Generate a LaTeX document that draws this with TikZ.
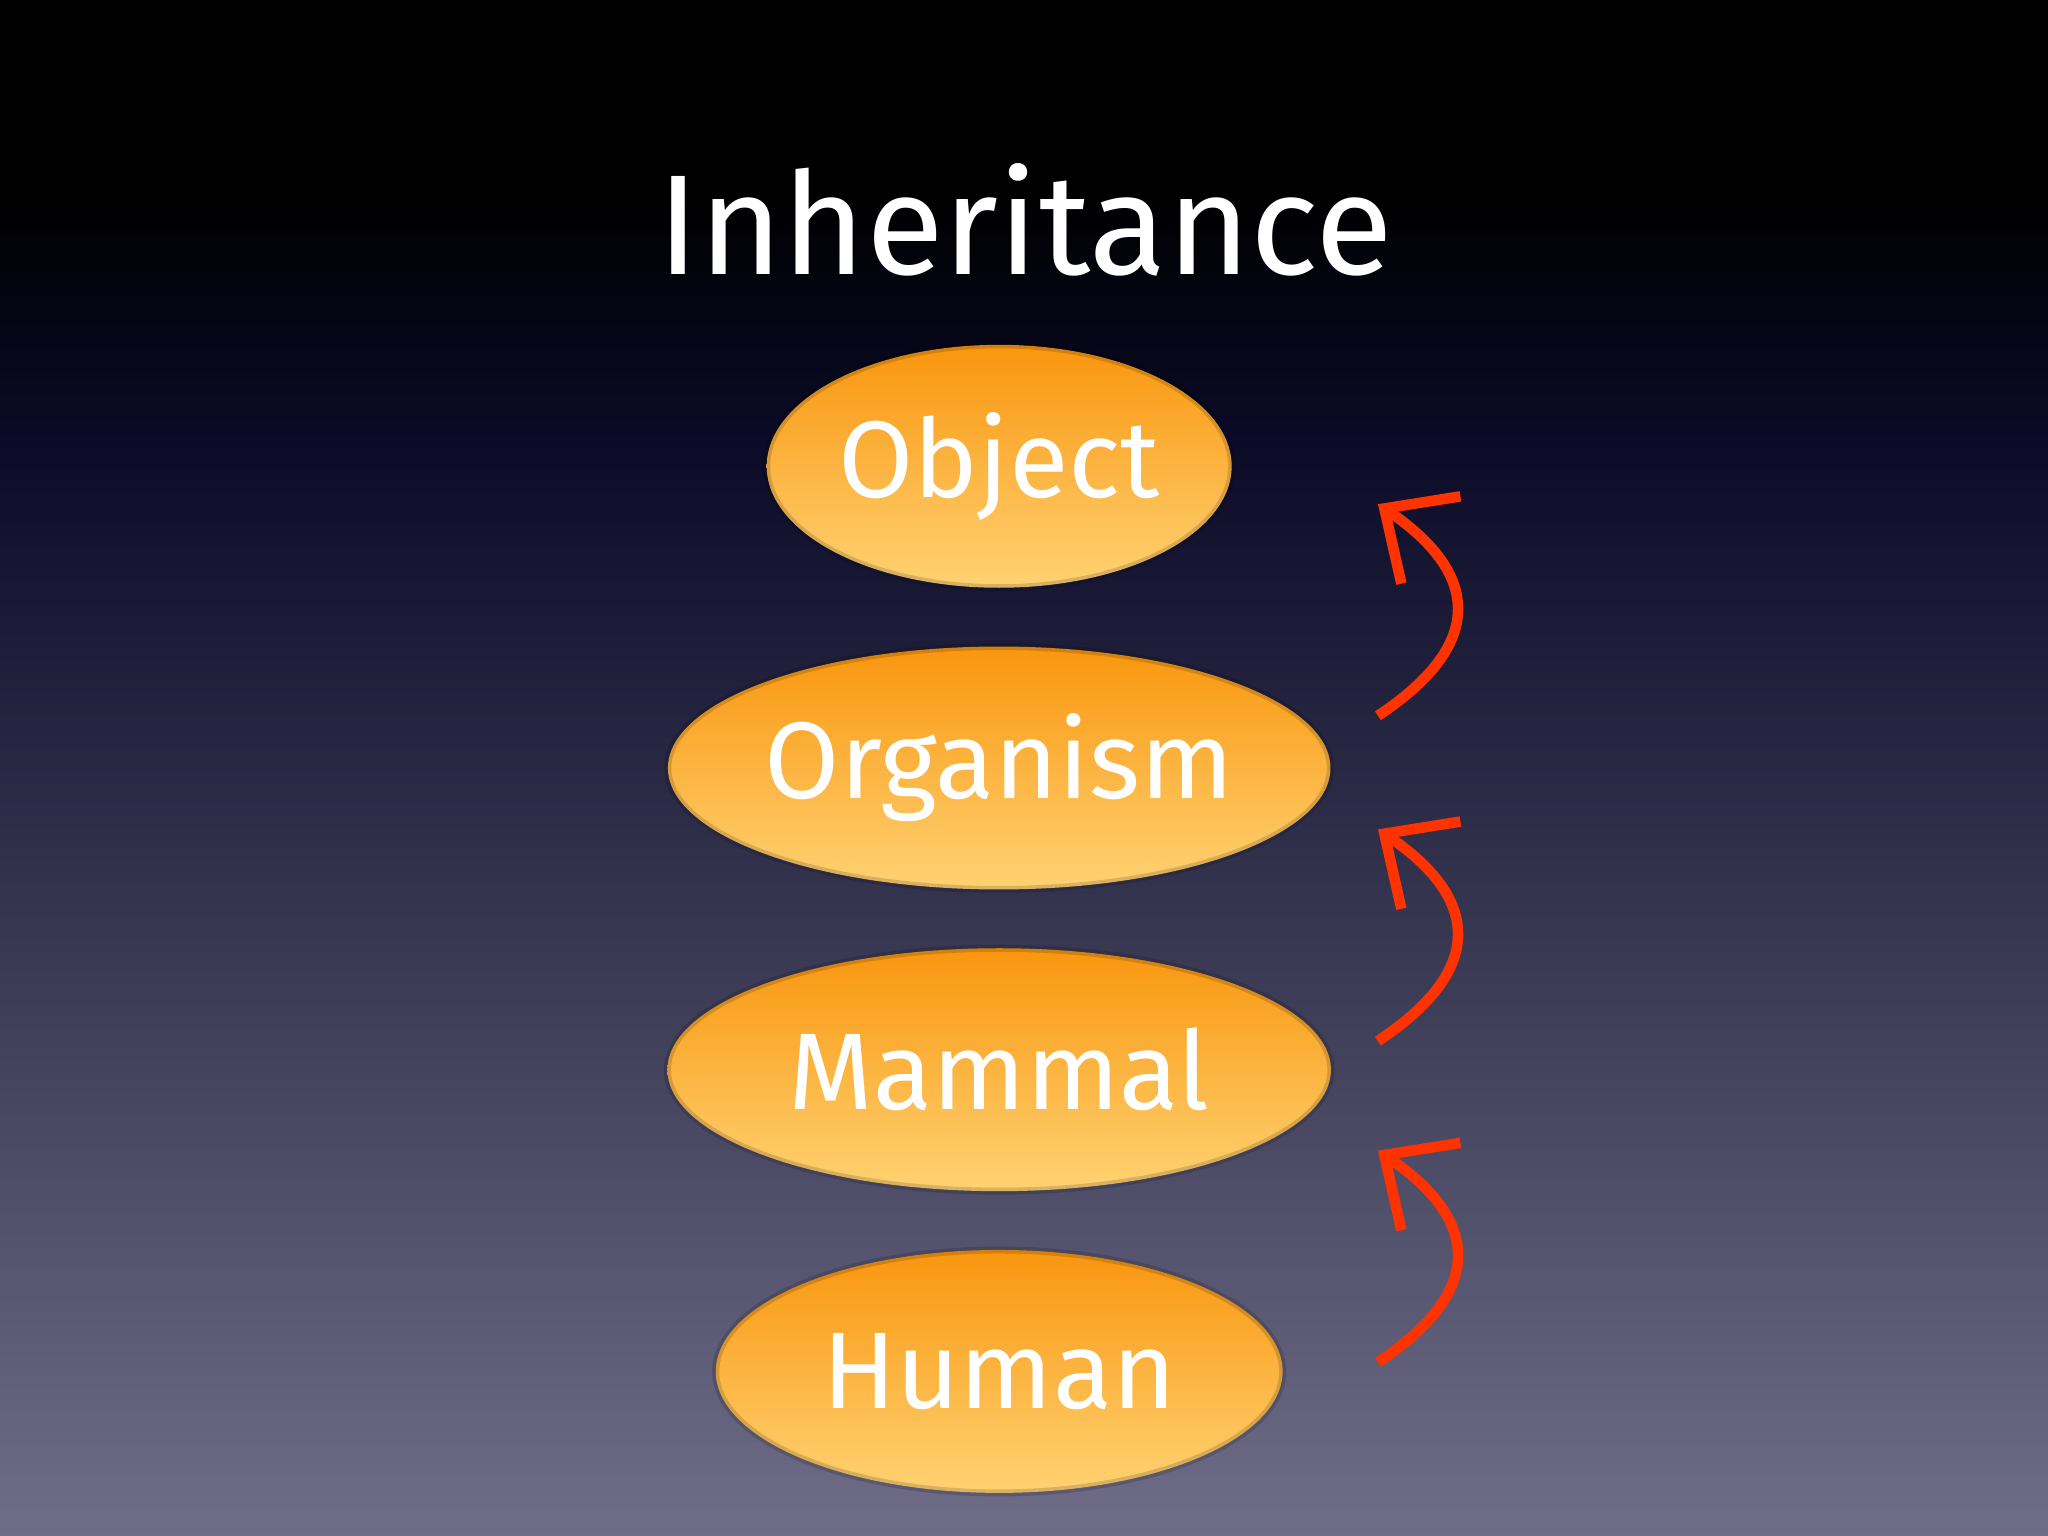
\documentclass[tikz,border=0pt]{standalone}
\usepackage{fontspec}
\setmainfont{Fira Sans}
\usetikzlibrary{arrows.meta,shapes.geometric}
\definecolor{redarr}{HTML}{FF3300}
\definecolor{navy}{RGB}{10,10,38}
\definecolor{grayp}{RGB}{111,109,135}
\definecolor{otop}{RGB}{249,150,14}
\definecolor{obot}{RGB}{255,210,115}
\begin{document}
\begin{tikzpicture}[x=0.01306cm,y=-0.01306cm,
  blob/.style={ellipse,inner sep=0pt,
     top color=otop,bottom color=obot,
     draw=black,draw opacity=0.15,line width=2pt,
     text=white,font=\fontsize{31}{36}\selectfont},
  inh/.style={draw=redarr,line width=3pt,-{Straight Barb[length=16pt,width=30pt,line width=3pt]}}]
\fill[black] (0,0) rectangle (1568,150);
\shade[top color=black,bottom color=navy] (0,149) rectangle (1568,330);
\shade[top color=navy,bottom color=grayp] (0,329) rectangle (1568,1176);
\useasboundingbox (0,0) rectangle (1568,1176);
\node[text=white,font=\fontsize{40.5}{46}\selectfont] (title) at (785,168) {Inheritance};
\node[blob,minimum width=356*0.01306cm,minimum height=186*0.01306cm] (obj) at (765,357) {Object};
\node[blob,minimum width=496*0.01306cm,minimum height=186*0.01306cm] (org) at (765,588) {Organism};
\node[blob,minimum width=508*0.01306cm,minimum height=186*0.01306cm] (mam) at (765,819) {Mammal};
\node[blob,minimum width=434*0.01306cm,minimum height=186*0.01306cm] (hum) at (765,1050) {Human};
\foreach \i/\d in {1/0,2/249,3/495}{
  \coordinate (s\i) at (1055,548+\d);
  \coordinate (e\i) at (1055,386+\d);
  \draw[inh] (s\i) .. controls (1150,485+\d) and (1120,430+\d) .. (e\i);
}
\end{tikzpicture}
\end{document}
